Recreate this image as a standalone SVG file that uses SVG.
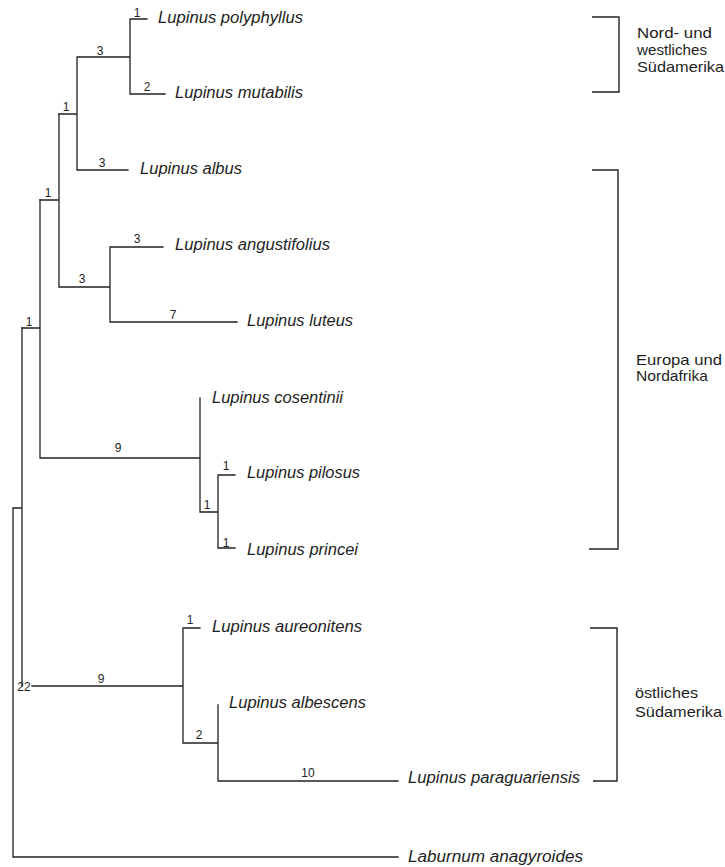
<svg xmlns="http://www.w3.org/2000/svg" width="725" height="867" viewBox="0 0 725 867">
<style>
.ln{stroke:#222;stroke-width:1.3;fill:none;stroke-linecap:square}
.br{stroke:#222;stroke-width:1.4;fill:none}
.tx{font-family:"Liberation Sans",Arial,sans-serif;font-style:italic;font-size:16px;fill:#1e1e1e}
.num{font-family:"Liberation Sans",Arial,sans-serif;font-size:12px;fill:#222;text-anchor:middle}
.rg{font-family:"Liberation Sans",Arial,sans-serif;font-size:15px;fill:#1e1e1e}
</style>
<rect width="725" height="867" fill="#ffffff"/>
<g id="connectors">
<path class="ln" d="M130 19H147M130 94H165M130 19V94M77 57H130M77 170H128M77 57V170M59 114H77"/>
<path class="ln" d="M110 247H163M110 322H237M110 247V322M59 287H110M59 114V287M40 200H59"/>
<path class="ln" d="M200 398V512M218 475H235M218 548H235M218 475V548M200 512H218M40 458H200M40 200V458M22 328H40"/>
<path class="ln" d="M183 628H200M218 705V781M218 781H398M183 743H218M183 628V743M32 686H183M22 328V686M13 508H22M13 508V857M13 857H398"/>
</g>
<g id="branch-labels">
<text class="num" x="137" y="17">1</text>
<text class="num" x="100" y="55">3</text>
<text class="num" x="147" y="91">2</text>
<text class="num" x="66" y="111">1</text>
<text class="num" x="102" y="167">3</text>
<text class="num" x="48" y="197">1</text>
<text class="num" x="137" y="243">3</text>
<text class="num" x="82" y="283">3</text>
<text class="num" x="173" y="319">7</text>
<text class="num" x="29" y="326">1</text>
<text class="num" x="118" y="452">9</text>
<text class="num" x="226" y="470">1</text>
<text class="num" x="207" y="509">1</text>
<text class="num" x="226" y="547">1</text>
<text class="num" x="190" y="624">1</text>
<text class="num" x="101" y="683">9</text>
<text class="num" x="199" y="739">2</text>
<text class="num" x="308" y="777">10</text>
<text class="num" x="24" y="691">22</text>
</g>
<g id="n-polyphyllus"><text class="tx" x="158" y="23" textLength="145" lengthAdjust="spacingAndGlyphs">Lupinus polyphyllus</text></g>
<g id="n-mutabilis"><text class="tx" x="175" y="98" textLength="128" lengthAdjust="spacingAndGlyphs">Lupinus mutabilis</text></g>
<g id="n-albus"><text class="tx" x="140" y="174" textLength="102" lengthAdjust="spacingAndGlyphs">Lupinus albus</text></g>
<g id="n-angustifolius"><text class="tx" x="175" y="250" textLength="155" lengthAdjust="spacingAndGlyphs">Lupinus angustifolius</text></g>
<g id="n-luteus"><text class="tx" x="247" y="326" textLength="106" lengthAdjust="spacingAndGlyphs">Lupinus luteus</text></g>
<g id="n-cosentinii"><text class="tx" x="212" y="403" textLength="131" lengthAdjust="spacingAndGlyphs">Lupinus cosentinii</text></g>
<g id="n-pilosus"><text class="tx" x="247" y="478" textLength="113" lengthAdjust="spacingAndGlyphs">Lupinus pilosus</text></g>
<g id="n-princei"><text class="tx" x="247" y="555" textLength="111" lengthAdjust="spacingAndGlyphs">Lupinus princei</text></g>
<g id="n-aureonitens"><text class="tx" x="212" y="632" textLength="150" lengthAdjust="spacingAndGlyphs">Lupinus aureonitens</text></g>
<g id="n-albescens"><text class="tx" x="229" y="708" textLength="137" lengthAdjust="spacingAndGlyphs">Lupinus albescens</text></g>
<g id="n-paraguariensis"><text class="tx" x="408" y="783" textLength="172" lengthAdjust="spacingAndGlyphs">Lupinus paraguariensis</text></g>
<g id="n-laburnum"><text class="tx" x="408" y="862" textLength="175" lengthAdjust="spacingAndGlyphs">Laburnum anagyroides</text></g>
<g id="region-nw-suedamerika">
<path class="br" d="M592 17H619V92H592"/>
<text class="rg" x="637" y="38" textLength="75" lengthAdjust="spacingAndGlyphs">Nord- und</text>
<text class="rg" x="637" y="55" textLength="70" lengthAdjust="spacingAndGlyphs">westliches</text>
<text class="rg" x="637" y="72" textLength="87" lengthAdjust="spacingAndGlyphs">Südamerika</text>
</g>
<g id="region-europa">
<path class="br" d="M592 170H618V549H589"/>
<text class="rg" x="636" y="365" textLength="86" lengthAdjust="spacingAndGlyphs">Europa und</text>
<text class="rg" x="636" y="381" textLength="72" lengthAdjust="spacingAndGlyphs">Nordafrika</text>
</g>
<g id="region-oe-suedamerika">
<path class="br" d="M590 628H617V781H593"/>
<text class="rg" x="635" y="698" textLength="63" lengthAdjust="spacingAndGlyphs">östliches</text>
<text class="rg" x="635" y="717" textLength="87" lengthAdjust="spacingAndGlyphs">Südamerika</text>
</g>
</svg>
